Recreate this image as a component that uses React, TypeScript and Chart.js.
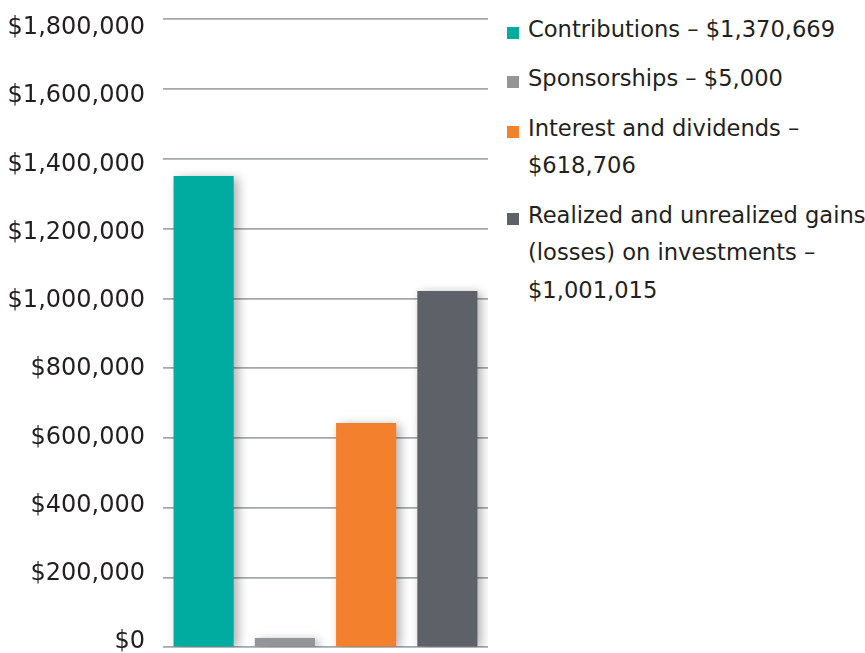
import React, { useEffect, useRef } from "react";
import { Chart, registerables } from "chart.js";

Chart.register(...registerables);

const categories = ["Contributions", "Sponsorships", "Interest and dividends", "Realized and unrealized gains (losses) on investments"];
const barValues = [1351000, 27000, 643000, 1021000];
const barColors = ["#00AC9F", "#939598", "#F2802C", "#5F6169"];
const legendLines = [
  ["Contributions – $1,370,669"],
  ["Sponsorships – $5,000"],
  ["Interest and dividends –", "$618,706"],
  ["Realized and unrealized gains", "(losses) on investments –", "$1,001,015"],
];
const tickValues = [0, 200000, 400000, 600000, 800000, 1000000, 1200000, 1400000, 1600000, 1800000];
const yMin = 0;
const yMax = 1800000;
const yStep = 200000;
// the printed tick labels sit on a slightly tighter scale than the gridlines
const labelMin = -15500;
const labelMax = 1825000;

const FONT = "'DejaVu Sans', sans-serif";
const TEXT = "#231F20";

const shadowPlugin = {
  id: "barShadow",
  beforeDatasetsDraw(chart: any) {
    const ctx = chart.ctx;
    ctx.save();
    ctx.shadowColor = "rgba(0,0,0,0.32)";
    ctx.shadowBlur = 10;
    ctx.shadowOffsetX = 4;
    ctx.shadowOffsetY = 2;
  },
  afterDatasetsDraw(chart: any) {
    chart.ctx.restore();
  },
};

export default function App() {
  const ref = useRef<HTMLCanvasElement | null>(null);

  useEffect(() => {
    if (!ref.current) return;
    const chart = new Chart(ref.current, {
      type: "bar",
      data: {
        labels: categories,
        datasets: [
          {
            data: barValues,
            backgroundColor: barColors,
            borderWidth: 0,
            categoryPercentage: 1,
            barPercentage: 0.74,
            yAxisID: "y",
          },
        ],
      },
      options: {
        animation: false,
        responsive: false,
        maintainAspectRatio: false,
        layout: { padding: { top: 19.3, bottom: 5.7, left: 0, right: 2 } },
        plugins: { legend: { display: false }, tooltip: { enabled: false } },
        scales: {
          x: { display: false, grid: { display: false } },
          y: {
            position: "left",
            min: yMin,
            max: yMax,
            afterFit(scale: any) {
              scale.width = 0;
              scale.paddingTop = 0;
              scale.paddingBottom = 0;
            },
            border: { display: false },
            grid: { color: "#A5A7AA", lineWidth: 1.8, drawTicks: false },
            ticks: { stepSize: yStep, display: false },
          },
          yl: {
            position: "left",
            min: labelMin,
            max: labelMax,
            afterBuildTicks(scale: any) {
              scale.ticks = tickValues.map((v) => ({ value: v }));
            },
            afterFit(scale: any) {
              scale.width = 163;
              scale.paddingTop = 0;
              scale.paddingBottom = 0;
            },
            border: { display: false },
            grid: { display: false, drawTicks: false },
            ticks: {
              padding: 18,
              color: TEXT,
              font: { family: FONT, size: 24 },
              callback: (v: any) => "$" + Number(v).toLocaleString("en-US"),
            },
          },
        },
      },
      plugins: [shadowPlugin],
    });
    return () => chart.destroy();
  }, []);

  return (
    <div style={{ position: "fixed", left: 0, top: 0, width: 865, height: 653, background: "#fff", overflow: "hidden" }}>
      <canvas ref={ref} width={490} height={653} style={{ position: "absolute", left: 0, top: 0, width: 490, height: 653 }} />
      <div style={{ position: "absolute", left: 507, top: 10.5, fontFamily: FONT, fontSize: 22.6, color: TEXT, lineHeight: "37.5px" }}>
        {legendLines.map((lines, i) => (
          <div key={i} style={{ display: "flex", alignItems: "flex-start", marginBottom: 12 }}>
            <div style={{ width: 12, height: 12, background: barColors[i], marginTop: 16, marginRight: 9, flex: "none" }} />
            <div style={{ whiteSpace: "nowrap" }}>
              {lines.map((l, j) => (
                <div key={j}>{l}</div>
              ))}
            </div>
          </div>
        ))}
      </div>
    </div>
  );
}
